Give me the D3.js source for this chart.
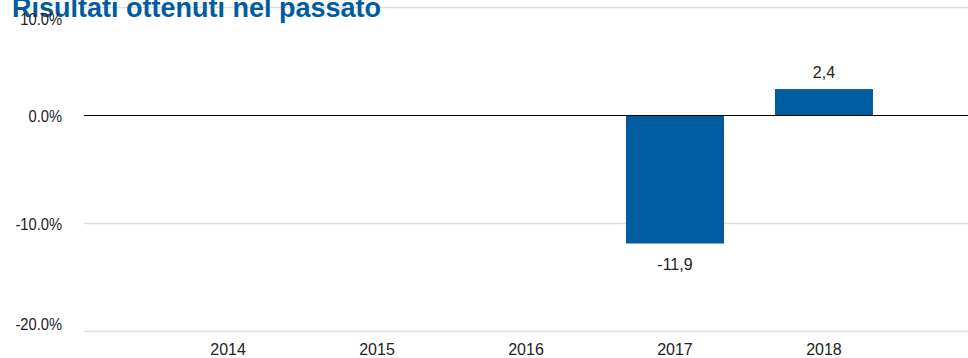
<!DOCTYPE html>
<html>
<head>
<meta charset="utf-8">
<script src="https://cdn.jsdelivr.net/npm/d3@7"></script>
<style>
  html, body { margin: 0; padding: 0; background: #fff; }
  svg { display: block; font-family: "Liberation Sans", Arial, sans-serif; }
</style>
</head>
<body>
<svg id="chart" width="968" height="358"></svg>
<script>
const title = "Risultati ottenuti nel passato";
const categories = ["2014", "2015", "2016", "2017", "2018"];
const values = [null, null, null, -11.9, 2.4];
const valueLabels = ["", "", "", "-11,9", "2,4"];
const yTicks = [10, 0, -10, -20];
const yTickLabels = ["10.0%", "0.0%", "-10.0%", "-20.0%"];

const W = 968, H = 358;
const plotLeft = 84, plotRight = 968;
const svg = d3.select("#chart");

const x = d3.scaleBand().domain(categories).range([plotLeft, plotRight])
  .paddingInner(0.342).paddingOuter(0.638);
const y = d3.scaleLinear().domain([-20, 10]).range([331, 7]);

const blue = "#005CA1";
const fs = 16;

// gridlines
svg.append("g").selectAll("line").data(yTicks.filter(d => d !== 0)).join("line")
  .attr("x1", plotLeft).attr("x2", plotRight)
  .attr("y1", d => Math.round(y(d)) + 0.5).attr("y2", d => Math.round(y(d)) + 0.5)
  .attr("stroke", "#dedede").attr("stroke-width", 1.5);

// title
svg.append("text").attr("x", 12).attr("y", 17)
  .attr("font-size", 27).attr("font-weight", "bold").attr("fill", blue)
  .text(title);

// y tick labels
svg.append("g").selectAll("text").data(yTicks).join("text")
  .attr("x", 62).attr("text-anchor", "end").attr("dominant-baseline", "middle")
  .attr("y", d => Math.min(Math.max(y(d) + 3, 21), 326))
  .attr("font-size", fs).attr("fill", "#222")
  .attr("transform", d => `translate(62,0) scale(0.92,1) translate(-62,0)`)
  .text((d, i) => yTickLabels[i]);

// bars
const data = categories.map((c, i) => ({ c, v: values[i], label: valueLabels[i] })).filter(d => d.v !== null);
svg.append("g").selectAll("rect").data(data).join("rect")
  .attr("x", d => x(d.c)).attr("width", x.bandwidth())
  .attr("y", d => y(Math.max(0, d.v)))
  .attr("height", d => Math.abs(y(d.v) - y(0)))
  .attr("fill", blue);

// zero line
svg.append("line").attr("x1", plotLeft).attr("x2", plotRight)
  .attr("y1", Math.round(y(0)) + 0.5).attr("y2", Math.round(y(0)) + 0.5)
  .attr("stroke", "#000").attr("stroke-width", 1);

// value labels
svg.append("g").selectAll("text").data(data).join("text")
  .attr("x", d => x(d.c) + x.bandwidth() / 2)
  .attr("y", d => d.v >= 0 ? y(d.v) - 15 : y(d.v) + 22)
  .attr("text-anchor", "middle").attr("dominant-baseline", "middle")
  .attr("font-size", fs).attr("fill", "#222")
  .text(d => d.label);

// x labels
svg.append("g").selectAll("text").data(categories).join("text")
  .attr("x", d => x(d) + x.bandwidth() / 2)
  .attr("y", 351)
  .attr("text-anchor", "middle").attr("dominant-baseline", "middle")
  .attr("font-size", fs).attr("fill", "#222")
  .text(d => d);
</script>
</body>
</html>
